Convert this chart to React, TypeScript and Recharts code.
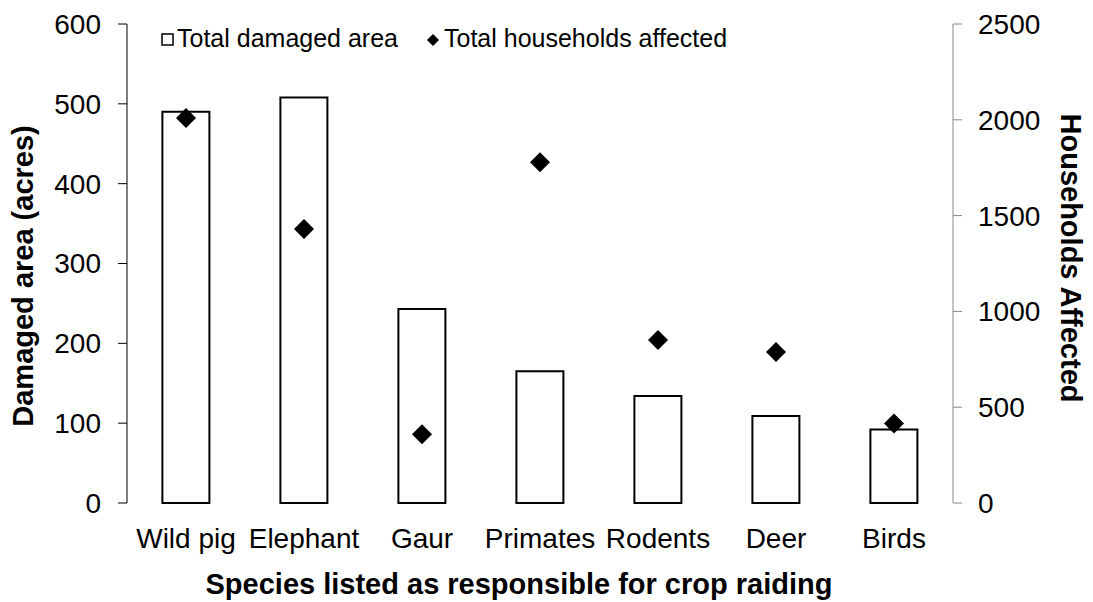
import { ComposedChart, Bar, Scatter, XAxis, YAxis } from 'recharts';

const species = ['Wild pig', 'Elephant', 'Gaur', 'Primates', 'Rodents', 'Deer', 'Birds'];
const damagedArea = [490, 508, 243, 165, 134, 109, 92]; // acres, left axis
const households = [2010, 1430, 359, 1778, 851, 788, 415]; // right axis

const areaTicks = [0, 100, 200, 300, 400, 500, 600];
const householdTicks = [0, 500, 1000, 1500, 2000, 2500];
const seriesNames = ['Total damaged area', 'Total households affected'];

const data = species.map((name, i) => ({
  name,
  area: damagedArea[i],
  households: households[i],
}));

// tick marks sit between categories, so a hidden number axis draws them
const edgeTicks = species.map((_, i) => i).concat(species.length);

const FONT = '"Liberation Sans", Arial, sans-serif';
const tickStyle = { fontSize: 28, fill: '#000', fontFamily: FONT };

// black diamond marker
const Diamond = (props: any) => {
  const { cx, cy } = props;
  if (cx == null || cy == null) return null;
  const r = 10;
  return (
    <polygon
      points={`${cx},${cy - r} ${cx + r},${cy} ${cx},${cy + r} ${cx - r},${cy}`}
      fill="#000"
    />
  );
};

export default function App() {
  return (
    <div style={{ position: 'relative', width: 1093, height: 602, fontFamily: FONT }}>
      <style>{'body { margin: 0; }'}</style>
      <ComposedChart
        width={1093}
        height={602}
        data={data}
        margin={{ top: 24, right: 40, bottom: 39, left: 47 }}
        barCategoryGap="30%"
      >
        <XAxis
          xAxisId="edges"
          type="number"
          domain={[0, species.length]}
          ticks={edgeTicks}
          height={0}
          stroke="#888"
          tickSize={9}
          tickFormatter={() => ''}
        />
        <XAxis
          xAxisId="cat"
          dataKey="name"
          type="category"
          height={60}
          axisLine={false}
          tickLine={false}
          tickSize={9}
          tickMargin={16}
          interval={0}
          tick={tickStyle}
        />
        <YAxis
          yAxisId="left"
          width={80}
          domain={[0, 600]}
          ticks={areaTicks}
          stroke="#000"
          tickSize={9}
          tickMargin={17}
          tick={tickStyle}
        />
        <YAxis
          yAxisId="right"
          orientation="right"
          width={100}
          domain={[0, 2500]}
          ticks={householdTicks}
          stroke="#888"
          tickSize={9}
          tickMargin={16}
          tick={tickStyle}
        />
        <Bar
          xAxisId="cat"
          yAxisId="left"
          dataKey="area"
          name={seriesNames[0]}
          fill="#fff"
          stroke="#000"
          strokeWidth={2}
          isAnimationActive={false}
        />
        <Scatter
          xAxisId="cat"
          yAxisId="right"
          dataKey="households"
          name={seriesNames[1]}
          fill="#000"
          shape={Diamond}
          isAnimationActive={false}
        />
      </ComposedChart>

      {/* titles and legend */}
      <svg
        width={1093}
        height={602}
        style={{ position: 'absolute', left: 0, top: 0, pointerEvents: 'none' }}
        fontFamily={FONT}
      >
        <rect x={162} y={34} width={11} height={11} fill="#fff" stroke="#000" strokeWidth={1.5} />
        <text x={177} y={47} fontSize={25} fill="#000">{seriesNames[0]}</text>
        <polygon points="433,34 439,40 433,46 427,40" fill="#000" />
        <text x={444} y={47} fontSize={25} fill="#000">{seriesNames[1]}</text>

        <text
          transform="translate(33,276) rotate(-90)"
          textAnchor="middle"
          fontSize={29}
          fontWeight="bold"
          fill="#000"
        >
          Damaged area (acres)
        </text>
        <text
          transform="translate(1061,258) rotate(90)"
          textAnchor="middle"
          fontSize={29}
          fontWeight="bold"
          fill="#000"
        >
          Households Affected
        </text>
        <text x={519} y={594} textAnchor="middle" fontSize={29} fontWeight="bold" fill="#000">
          Species listed as responsible for crop raiding
        </text>
      </svg>
    </div>
  );
}
